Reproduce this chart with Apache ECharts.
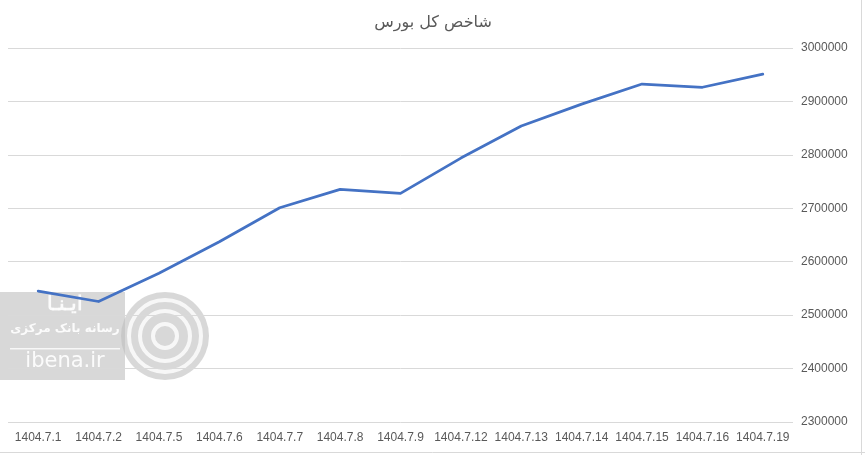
<!DOCTYPE html>
<html><head><meta charset="utf-8">
<script src="https://cdn.jsdelivr.net/npm/echarts@6/dist/echarts.min.js"></script>
<style>html,body{margin:0;padding:0;background:#fff}#c{width:865px;height:455px}</style>
</head><body><div id="c"></div>
<script>
const categories = ['1404.7.1','1404.7.2','1404.7.5','1404.7.6','1404.7.7','1404.7.8','1404.7.9','1404.7.12','1404.7.13','1404.7.14','1404.7.15','1404.7.16','1404.7.19'];
const indexValues = [2545000, 2525500, 2578300, 2637500, 2701000, 2735500, 2728000, 2794000, 2854000, 2895000, 2932500, 2926500, 2951000];
const titleText = 'شاخص کل بورس';
const yMin = 2300000, yMax = 3000000, yStep = 100000;

const chart = echarts.init(document.getElementById('c'));
const font = '"Liberation Sans Narrow", "Liberation Sans", sans-serif';
chart.setOption({
  animation: false,
  backgroundColor: '#fff',
  title: { text: titleText, left: 428, top: 10, textAlign: 'center',
    textStyle: { color: '#595959', fontSize: 16, fontWeight: 'normal', fontFamily: 'DejaVu Sans, sans-serif' } },
  grid: { left: 8, right: 72, top: 48, bottom: 33 },
  xAxis: { type: 'category', data: categories, boundaryGap: true,
    axisLine: { show: false }, axisTick: { show: false },
    axisLabel: { color: '#595959', fontSize: 12, fontFamily: font, margin: 10, interval: 0 } },
  yAxis: { type: 'value', position: 'right', min: yMin, max: yMax, interval: yStep,
    axisLine: { show: false }, axisTick: { show: false },
    axisLabel: { color: '#595959', fontSize: 12, fontFamily: font, margin: 8, formatter: v => String(v) },
    splitLine: { lineStyle: { color: '#d9d9d9', width: 1 } } },
  series: [{ type: 'line', data: indexValues, showSymbol: false, symbol: 'none',
    lineStyle: { color: '#4472C4', width: 2.75, cap: 'round', join: 'round' } }],
  graphic: [
    { type: 'line', shape: { x1: 861.5, y1: 0, x2: 861.5, y2: 455 }, style: { stroke: '#d9d9d9', lineWidth: 1 } },
    { type: 'line', shape: { x1: 0, y1: 452.5, x2: 865, y2: 452.5 }, style: { stroke: '#d9d9d9', lineWidth: 1 } },
    { type: 'group', left: 0, top: 292, z: 100, children: [
      { type: 'circle', shape: { cx: 165, cy: 44, r: 44 }, style: { fill: 'rgba(190,190,190,0.6)' } },
      { type: 'rect', shape: { x: 0, y: 0, width: 125, height: 88 }, style: { fill: 'rgba(190,190,190,0.6)' } },
      { type: 'circle', shape: { cx: 165, cy: 44, r: 36 }, style: { fill: 'none', stroke: 'rgba(255,255,255,0.8)', lineWidth: 4 } },
      { type: 'circle', shape: { cx: 165, cy: 44, r: 25 }, style: { fill: 'none', stroke: 'rgba(255,255,255,0.8)', lineWidth: 4 } },
      { type: 'circle', shape: { cx: 165, cy: 44, r: 12 }, style: { fill: 'none', stroke: 'rgba(255,255,255,0.8)', lineWidth: 4 } },
      { type: 'text', style: { text: 'ایـنـا', x: 65, y: 2, fill: 'rgba(255,255,255,0.9)', font: 'bold 20px "Noto Sans", sans-serif', align: 'center' } },
      { type: 'text', style: { text: 'رسانه بانک مرکزی', x: 65, y: 31, fill: 'rgba(255,255,255,0.9)', font: 'bold 12px "DejaVu Sans", sans-serif', align: 'center' } },
      { type: 'rect', shape: { x: 10, y: 56, width: 110, height: 1.5 }, style: { fill: 'rgba(255,255,255,0.8)' } },
      { type: 'text', style: { text: 'ibena.ir', x: 65, y: 59, fill: 'rgba(255,255,255,0.9)', font: '21px "DejaVu Sans", sans-serif', align: 'center' } }
    ] }
  ]
});
</script></body></html>
